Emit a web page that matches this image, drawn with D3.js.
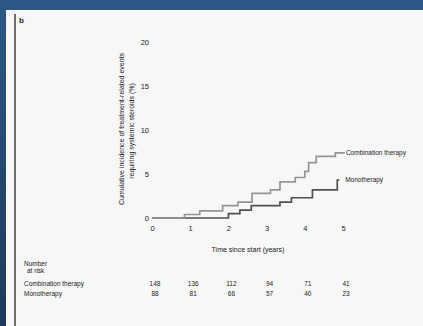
<!DOCTYPE html>
<html>
<head>
<meta charset="utf-8">
<script src="https://cdn.jsdelivr.net/npm/d3@7"></script>
<style>
  html, body { margin: 0; padding: 0; background: #2b5886; }
  svg { display: block; font-family: "Liberation Sans", Arial, sans-serif; }
</style>
</head>
<body>
<svg id="chart" width="423" height="326"></svg>
<script>
// Cumulative incidence by treatment group, with number-at-risk table
const years = [0, 1, 2, 3, 4, 5];
const yTicks = [0, 5, 10, 15, 20];

const seriesNames = ["Combination therapy", "Monotherapy"];

// step points: [time in years, cumulative incidence %]
const combinationSteps = [
  [0, 0], [0.85, 0.4], [1.25, 0.8], [1.85, 1.4], [2.25, 1.8], [2.62, 2.8],
  [3.1, 3.2], [3.35, 4.1], [3.75, 4.6], [4.0, 5.3], [4.1, 6.3],
  [4.3, 7.0], [4.8, 7.4], [5.05, 7.4]
];
const monotherapySteps = [
  [0, 0], [2.0, 0.5], [2.3, 0.9], [2.6, 1.4], [3.35, 1.8], [3.65, 2.3],
  [4.2, 3.2], [4.85, 4.3], [4.9, 4.3]
];

const atRiskCombination = ["148", "136", "112", "94", "71", "41"];
const atRiskMonotherapy = ["88", "81", "66", "57", "40", "23"];

const svg = d3.select("#chart");
const W = 423, H = 326;
const ink = "#222";

// frame
svg.append("rect").attr("x", 0).attr("y", 0).attr("width", W).attr("height", H).attr("fill", "#2b5886");
const grad = svg.append("defs").append("linearGradient").attr("id", "side").attr("x1", 0).attr("y1", 0).attr("x2", 0).attr("y2", 1);
grad.append("stop").attr("offset", "0%").attr("stop-color", "#2b5886");
grad.append("stop").attr("offset", "100%").attr("stop-color", "#1b3a5c");
svg.append("rect").attr("x", 0).attr("y", 0).attr("width", 6).attr("height", H).attr("fill", "url(#side)");
svg.append("rect").attr("x", 6).attr("y", 10).attr("width", W - 6).attr("height", H - 10).attr("fill", "#f7f7f7");
svg.append("rect").attr("x", 14).attr("y", 14).attr("width", 2).attr("height", H - 14).attr("fill", "#6f6f6f");

svg.append("text").attr("x", 19).attr("y", 23).attr("font-size", 8).attr("font-weight", "bold")
  .attr("fill", ink).text("b");

const x = d3.scaleLinear().domain([0, 5]).range([152, 343]);
const y = d3.scaleLinear().domain([0, 20]).range([218, 42]);

// axes without domain lines
const xAxis = svg.append("g").attr("transform", "translate(0,222)")
  .call(d3.axisBottom(x).tickValues(years).tickFormat(d3.format("d")).tickSize(0).tickPadding(4));
xAxis.select(".domain").remove();
xAxis.selectAll("text").attr("font-size", 7.5).attr("fill", ink).attr("font-family", "Liberation Sans, Arial, sans-serif");

const yAxis = svg.append("g").attr("transform", "translate(151,0)")
  .call(d3.axisLeft(y).tickValues(yTicks).tickFormat(d3.format("d")).tickSize(0).tickPadding(2));
yAxis.select(".domain").remove();
yAxis.selectAll("text").attr("font-size", 7.5).attr("fill", ink).attr("font-family", "Liberation Sans, Arial, sans-serif");

// axis titles
svg.append("text").attr("transform", "translate(124,129) rotate(-90)")
  .attr("text-anchor", "middle").attr("font-size", 7).attr("fill", ink)
  .text("Cumulative incidence of treatment-related events");
svg.append("text").attr("transform", "translate(134,131) rotate(-90)")
  .attr("text-anchor", "middle").attr("font-size", 7).attr("fill", ink)
  .text("requiring systemic steroids (%)");

svg.append("text").attr("x", 248).attr("y", 252).attr("text-anchor", "middle")
  .attr("font-size", 7).attr("fill", ink).text("Time since start (years)");

// curves
const line = d3.line().x(d => x(d[0])).y(d => y(d[1])).curve(d3.curveStepAfter);
svg.append("path").datum(monotherapySteps).attr("d", line)
  .attr("fill", "none").attr("stroke", "#505050").attr("stroke-width", 1.7);
svg.append("path").datum(combinationSteps).attr("d", line)
  .attr("fill", "none").attr("stroke", "#959595").attr("stroke-width", 1.7);

const lastC = combinationSteps[combinationSteps.length - 1];
const lastM = monotherapySteps[monotherapySteps.length - 1];
svg.append("text").attr("x", x(lastC[0]) + 1).attr("y", y(lastC[1]) + 2)
  .attr("font-size", 6.5).attr("fill", ink).text(seriesNames[0]);
svg.append("text").attr("x", x(lastM[0]) + 6).attr("y", y(lastM[1]) + 2)
  .attr("font-size", 6.5).attr("fill", ink).text(seriesNames[1]);

// number at risk
svg.append("text").attr("x", 24).attr("y", 266).attr("font-size", 6.5).attr("fill", ink).text("Number");
svg.append("text").attr("x", 27).attr("y", 273).attr("font-size", 6.5).attr("fill", ink).text("at risk");
const rows = [atRiskCombination, atRiskMonotherapy];
rows.forEach((vals, i) => {
  const ry = 286 + i * 10;
  svg.append("text").attr("x", 24).attr("y", ry).attr("font-size", 6.5).attr("fill", ink).text(seriesNames[i]);
  svg.selectAll(null).data(vals).enter().append("text")
    .attr("x", (d, j) => x(years[j]) + 3).attr("y", ry)
    .attr("text-anchor", "middle").attr("font-size", 6.5).attr("fill", ink)
    .text(d => d);
});
</script>
</body>
</html>
